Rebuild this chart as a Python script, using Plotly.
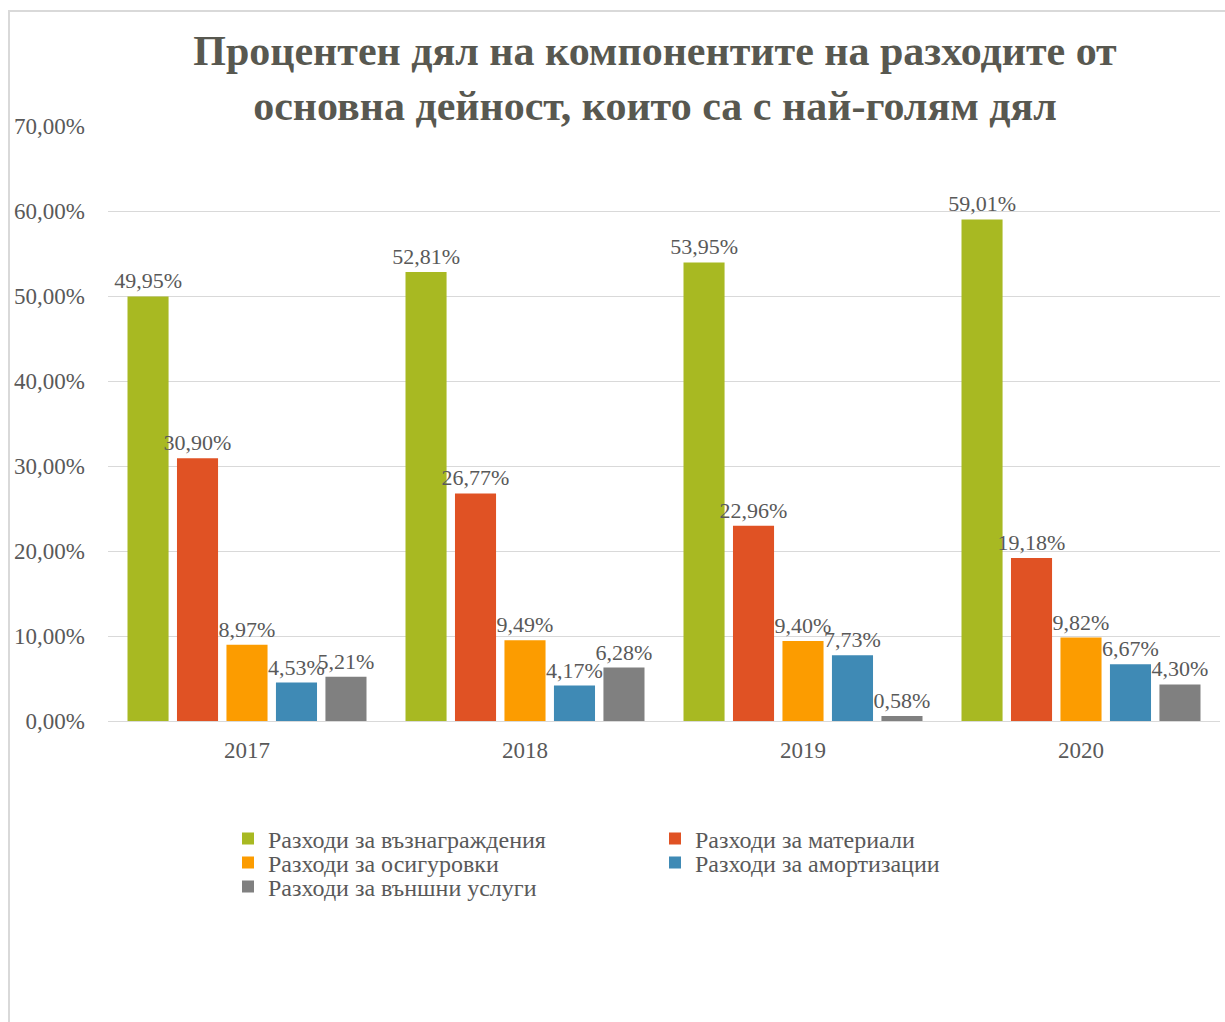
import plotly.graph_objects as go

years = ["2017", "2018", "2019", "2020"]
series_names = [
    "Разходи за възнаграждения",
    "Разходи за материали",
    "Разходи за осигуровки",
    "Разходи за амортизации",
    "Разходи за външни услуги",
]
v_vazn = [49.95, 52.81, 53.95, 59.01]
v_mat = [30.90, 26.77, 22.96, 19.18]
v_osig = [8.97, 9.49, 9.40, 9.82]
v_amort = [4.53, 4.17, 7.73, 6.67]
v_usl = [5.21, 6.28, 0.58, 4.30]
y_ticks = [0, 10, 20, 30, 40, 50, 60, 70]

colors = ["#A8B922", "#E05224", "#FC9C00", "#3F8AB5", "#808080"]
values = [v_vazn, v_mat, v_osig, v_amort, v_usl]
legend_ids = ["legend", "legend", "legend2", "legend2", "legend3"]

FONT = "Liberation Serif"
TXT = "#595959"


def pct(v):
    return f"{v:.2f}".replace(".", ",") + "%"


fig = go.Figure()
for name, vals, col, lg in zip(series_names, values, colors, legend_ids):
    fig.add_trace(go.Bar(
        name=name, x=years, y=vals,
        marker=dict(color=col, line=dict(width=0)),
        text=[pct(v) for v in vals],
        textposition="outside",
        constraintext="none",
        cliponaxis=False,
        textfont=dict(family=FONT, size=22, color=TXT),
        legend=lg,
    ))

W, H = 1225, 1022
L, R, T, B = 108, 5, 126, 301
pw = W - L - R
ph = H - T - B


def px_x(x):
    return (x - L) / pw


def px_y(y):
    return (H - B - y) / ph


def row_legend(yc):
    return dict(
        orientation="h",
        x=px_x(228), xanchor="left",
        y=px_y(yc), yanchor="middle",
        entrywidth=382, entrywidthmode="pixels",
        font=dict(family=FONT, size=24, color=TXT),
        bgcolor="rgba(0,0,0,0)",
        traceorder="normal",
    )


fig.update_layout(
    width=W, height=H,
    margin=dict(l=L, r=R, t=T, b=B),
    paper_bgcolor="white", plot_bgcolor="white",
    separators=", ",
    barmode="group", bargap=0.11, bargroupgap=0.17,
    font=dict(family=FONT, color=TXT),
    title=dict(
        text="Процентен дял на компонентите на разходите от<br>основна дейност, които са с най-голям дял",
        font=dict(family=FONT, size=42, color="#585850", weight="bold"),
        x=655 / W, xanchor="center", xref="container",
        y=1 - 65 / H, yanchor="middle", yref="container",
    ),
    showlegend=True,
    legend=row_legend(839),
    legend2=row_legend(863),
    legend3=row_legend(887),
    xaxis=dict(
        showgrid=False, showline=False, ticks="",
        tickfont=dict(family=FONT, size=23, color=TXT),
        ticklabelstandoff=13,
    ),
    yaxis=dict(
        range=[0, 70], tickvals=y_ticks,
        ticktext=[pct(v) for v in y_ticks],
        showgrid=True, gridcolor="#D9D9D9", gridwidth=1,
        zeroline=True, zerolinecolor="#D9D9D9", zerolinewidth=1,
        showline=False, ticks="",
        tickfont=dict(family=FONT, size=23, color=TXT),
        ticklabelstandoff=22,
    ),
    shapes=[dict(
        type="rect", xref="paper", yref="paper",
        x0=px_x(9), x1=px_x(1260), y0=px_y(1060), y1=px_y(11),
        line=dict(color="#D9D9D9", width=2), fillcolor="rgba(0,0,0,0)",
        layer="below",
    )],
)

fig.write_html("out.html")
